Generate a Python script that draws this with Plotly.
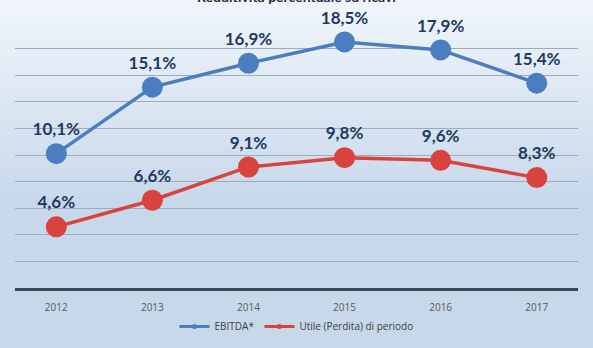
import plotly.graph_objects as go

# Chart data
years = ["2012", "2013", "2014", "2015", "2016", "2017"]
ebitda = [10.1, 15.1, 16.9, 18.5, 17.9, 15.4]
utile = [4.6, 6.6, 9.1, 9.8, 9.6, 8.3]
ebitda_labels = ["10,1%", "15,1%", "16,9%", "18,5%", "17,9%", "15,4%"]
utile_labels = ["4,6%", "6,6%", "9,1%", "9,8%", "9,6%", "8,3%"]
series_names = ["EBITDA*", "Utile (Perdita) di periodo"]

BLUE = "#4a7ec0"
RED = "#d8443d"
LABEL = "#1f3a60"

fig = go.Figure()

for vals, labels, color in [(ebitda, ebitda_labels, BLUE), (utile, utile_labels, RED)]:
    fig.add_trace(go.Scatter(
        x=years, y=vals, mode="lines+markers+text", showlegend=False,
        line=dict(color=color, width=3.5),
        marker=dict(color=color, size=21),
        text=labels, textposition="top center",
        textfont=dict(family="Lato", size=17, color=LABEL, weight="bold"),
        cliponaxis=False,
    ))

# Small legend keys (line with a little marker)
for name, color in zip(series_names, [BLUE, RED]):
    fig.add_trace(go.Scatter(
        x=[None], y=[None], name=name, mode="lines+markers",
        line=dict(color=color, width=3), marker=dict(color=color, size=5),
    ))

# Soft vertical background gradient: pale at the top, light blue lower down
shapes = []
n = 40
top = (243, 247, 252)
bot = (199, 216, 235)
for i in range(n):
    t = min(1.0, (i / (n - 1)) / 0.55)
    c = tuple(int(top[k] + (bot[k] - top[k]) * t) for k in range(3))
    shapes.append(dict(
        type="rect", xref="paper", yref="paper", layer="below",
        x0=-0.05, x1=1.05,
        y0=1.12 - (i + 1) * (1.5 / n), y1=1.12 - i * (1.5 / n) + 0.01,
        fillcolor="rgb(%d,%d,%d)" % c, line=dict(width=0),
    ))

fig.update_layout(
    width=593, height=348,
    margin=dict(l=15, r=15, t=22, b=60, autoexpand=False),
    paper_bgcolor="rgb(205,220,237)",
    plot_bgcolor="rgba(0,0,0,0)",
    shapes=shapes,
    showlegend=True,
    legend=dict(
        orientation="h", x=0.5, xanchor="center",
        yref="container", y=0.062, yanchor="middle",
        font=dict(family="Open Sans", size=10, color="#404040"),
        bgcolor="rgba(0,0,0,0)", itemwidth=30, tracegroupgap=0,
    ),
    xaxis=dict(
        type="category", showgrid=False, zeroline=False,
        showline=True, linecolor="#3d4753", linewidth=3,
        ticks="", tickfont=dict(family="Open Sans", size=10, color="#595959"),
        ticklabelstandoff=8,
    ),
    yaxis=dict(
        range=[0, 20], dtick=2, showticklabels=False,
        showgrid=True, gridcolor="#9eabba", gridwidth=1,
        zeroline=False, fixedrange=True,
    ),
    annotations=[dict(
        text="<b>Redditività percentuale su ricavi</b>",
        x=0.5, xref="paper", y=1, yref="paper", yanchor="middle",
        yshift=26, showarrow=False,
        font=dict(family="Lato", size=14, color="#1f2f45"),
    )],
)

fig.write_html("out.html")
